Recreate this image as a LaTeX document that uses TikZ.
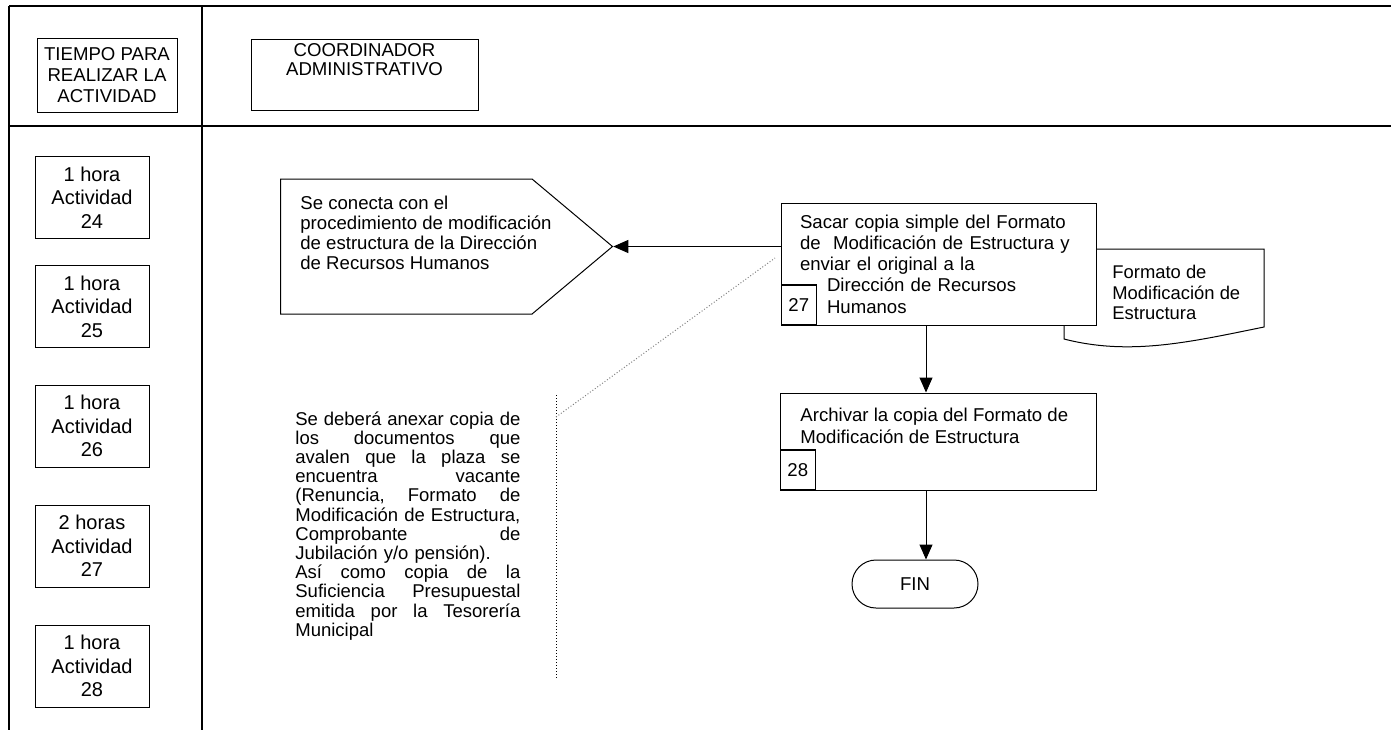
\documentclass[tikz,border=0pt]{standalone}
\usepackage{fontspec}
\setmainfont{Liberation Sans}
\usetikzlibrary{arrows.meta,positioning,shapes.symbols,calc}
\newcommand{\jl}[1]{\leavevmode\hbox to 112.5pt{#1}}

\begin{document}
\begin{tikzpicture}[
  x=0.5pt, y=-0.5pt,
  frame/.style={line width=0.8pt},
  hdrbox/.style={rectangle, draw, line width=0.5pt, align=center, inner sep=0pt, font=\fontsize{9.3}{10.5}\selectfont},
  timebox/.style={rectangle, draw, line width=0.5pt, minimum width=57pt, minimum height=41pt, align=center, inner sep=0pt, font=\fontsize{10}{11.75}\selectfont},
  stepbox/.style={rectangle, draw, fill=white, line width=0.5pt, inner sep=0pt},
  numbox/.style={rectangle, draw, fill=white, line width=0.8pt, minimum width=17.5pt, minimum height=20pt, inner sep=0pt, font=\fontsize{9.3}{10}\selectfont},
  txt/.style={align=left, inner sep=0pt, font=\fontsize{9.3}{10.6}\selectfont},
  arrow/.style={-{Triangle[length=7.5pt,width=6.5pt]}, line width=0.5pt},
  note/.style={densely dotted, line width=0.5pt},
  every node/.style={font=\fontsize{9.3}{10.6}\selectfont}
]
\useasboundingbox (0,0) rectangle (1391,730);

\draw[frame] (9,6) -- (1391,6);
\draw[frame] (9,126) -- (1391,126);
\draw[frame] (9,6) -- (9,730);
\draw[frame] (202,6) -- (202,730);

\node[hdrbox, minimum width=70pt, minimum height=37pt] (tiempo) at (107,75) {TIEMPO PARA\\REALIZAR LA\\ACTIVIDAD};
\node[hdrbox, minimum width=113.5pt, minimum height=35.5pt,
  label={[anchor=north, align=center, inner sep=2.2pt, font=\fontsize{9.3}{9.6}\selectfont]north:COORDINADOR\\ADMINISTRATIVO}] (coord) at (364.5,74.5) {};

\foreach \n/\t/\y in {24/1 hora/197.5, 25/1 hora/306.5, 26/1 hora/426, 27/2 horas/546, 28/1 hora/666}
  \node[timebox] (t\n) at (92,\y) {\t\\Actividad\\\n};

\node[signal, signal to=east, signal pointer angle=80, draw, line width=0.5pt, minimum width=166pt, minimum height=67.5pt, inner sep=0pt, anchor=west] (conn) at (280,246.5) {};
\node[txt, anchor=north west, font=\fontsize{9.3}{10}\selectfont] (conntxt) at (300,196) {Se conecta con el\\procedimiento de modificación\\de estructura de la Dirección\\de Recursos Humanos};

\coordinate (doc) at (1064,249);
\draw[line width=0.5pt, fill=white] (doc) -- (1264,249) -- (1264,327) .. controls (1190,342) and (1130,356) .. (1064,339) -- cycle;
\node[txt, anchor=north west, font=\fontsize{9.2}{10.25}\selectfont] (doctxt) at (1112,265) {Formato de\\Modificación de\\Estructura};

\node[stepbox, minimum width=157.5pt, minimum height=61pt, text width=138.5pt, inner xsep=9.5pt, align=left] (s27) at (938.5,264) {Sacar copia simple del Formato\\de \ Modificación de Estructura y\\enviar el original a la\\\hspace*{13.5pt}Dirección de Recursos\\\hspace*{13.5pt}Humanos};
\node[numbox, anchor=south west] (n27) at (s27.south west) {27};

\node[stepbox, minimum width=158pt, minimum height=48.5pt] (s28) at (938,441.5) {};
\node[txt, anchor=north west] (s28txt) at (800,408) {Archivar la copia del Formato de\\Modificación de Estructura};
\node[numbox, anchor=south west] (n28) at (s28.south west) {28};

\node[rectangle, draw, line width=0.5pt, rounded corners=12pt, minimum width=63pt, minimum height=24pt] (fin) at (915,584) {FIN};

\coordinate (spine) at (926,0);
\draw[arrow] (s27.west |- conn.east) -- (conn.east);
\draw[arrow] (s27.south -| spine) -- (s28.north -| spine);
\draw[arrow] (s28.south -| spine) -- (spine |- fin.north);

\node[txt, anchor=north west, text width=112.5pt, font=\fontsize{9.25}{9.6}\selectfont] (obs) at (295,411) {\jl{Se\hfill deberá\hfill anexar\hfill copia\hfill de}\\\jl{los\hfill documentos\hfill que}\\\jl{avalen\hfill que\hfill la\hfill plaza\hfill se}\\\jl{encuentra\hfill vacante}\\\jl{(Renuncia,\hfill Formato\hfill de}\\\jl{Modificación\hfill de\hfill Estructura,}\\\jl{Comprobante\hfill de}\\Jubilación y/o pensión).\\\jl{Así\hfill como\hfill copia\hfill de\hfill la}\\\jl{Suficiencia\hfill Presupuestal}\\\jl{emitida\hfill por\hfill la\hfill Tesorería}\\Municipal};

\coordinate (brtop) at (556,395);
\coordinate (brbot) at (556,678);
\coordinate (brjoin) at (556,417);
\coordinate (brend) at (775,258);
\draw[note] (brtop) -- (brbot);
\draw[note, gray] (brjoin) -- (brend);

\end{tikzpicture}
\end{document}
